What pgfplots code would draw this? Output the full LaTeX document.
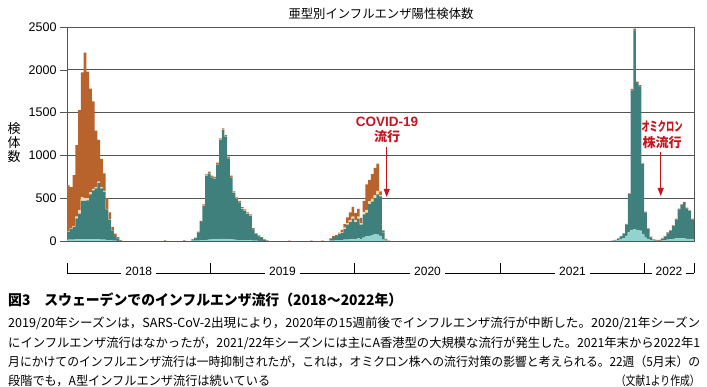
\documentclass[border=0pt]{standalone}
\usepackage{pgfplots}
\pgfplotsset{compat=1.18}
\usepackage{pgfplotstable}
\usepackage{graphicx}
\usepackage{fontspec}
\setmainfont{Liberation Sans}
\newfontfamily\jp{Noto Sans CJK JP}
\usetikzlibrary{arrows.meta}
\definecolor{cy}{HTML}{92D3CF}
\definecolor{tl}{HTML}{3F7F7C}
\definecolor{yl}{HTML}{F3D9A2}
\definecolor{orn}{HTML}{B7632B}
\definecolor{rd}{HTML}{C4161C}
\definecolor{gr}{HTML}{555555}
% week index (0 = 2018 week 1), light cyan, teal, pale yellow, orange
\pgfplotstableread{
x c t y o
0 15 95 5 535
1 15 125 5 485
2 15 150 10 595
3 20 245 20 835
4 20 300 40 1170
5 20 450 40 1460
6 20 450 30 1700
7 20 455 25 1480
8 20 525 25 1210
9 20 570 20 1020
10 20 595 15 660
11 20 660 15 485
12 15 600 10 335
13 15 560 10 205
14 10 360 5 125
15 10 240 5 80
16 5 115 0 45
17 5 55 0 25
18 0 30 0 15
19 0 5 0 5
35 0 0 0 8
42 0 0 0 6
45 3 15 0 5
46 4 30 0 5
47 5 94 0 10
48 8 211 0 15
49 10 398 5 15
50 12 747 5 15
51 15 775 5 15
52 20 723 5 15
53 20 708 5 15
54 20 875 5 15
55 25 1154 5 15
56 25 1271 5 15
57 25 1193 5 15
58 20 945 5 15
59 20 723 5 15
60 15 545 5 15
61 12 478 5 15
62 10 440 5 15
63 10 365 5 15
64 8 342 5 15
65 8 307 5 15
66 6 284 5 15
67 5 130 0 15
68 3 77 0 10
69 2 53 0 10
70 2 35 0 8
71 0 12 0 8
72 0 3 0 5
80 0 0 0 5
88 0 0 0 5
92 0 0 0 5
95 5 20 0 6
96 5 40 0 13
97 8 50 0 12
98 10 70 5 12
99 10 85 10 25
100 15 125 15 45
101 15 175 20 65
102 20 200 25 90
103 25 235 25 115
104 20 200 20 85
105 30 230 25 90
106 25 165 20 60
107 40 270 30 130
108 55 275 35 295
109 60 370 35 250
110 70 390 35 285
111 80 420 35 320
112 75 470 40 320
113 60 460 20 40
114 15 85 5 20
115 5 10 0 10
116 0 0 0 5
197 0 5 0 0
198 4 6 0 2
199 10 18 0 3
200 20 33 0 5
201 30 55 0 5
202 60 130 0 10
203 100 447 0 10
204 130 1631 0 15
205 140 2320 0 20
206 130 1716 0 15
207 120 1687 0 15
208 80 817 0 10
209 40 293 0 10
210 20 118 0 10
211 10 31 0 10
212 5 4 0 10
213 2 2 0 8
214 0 4 0 8
215 5 18 0 8
216 10 40 0 8
217 15 75 0 10
218 20 95 0 10
219 25 148 0 10
220 30 220 0 10
221 30 338 0 10
222 30 389 0 10
223 30 416 0 10
224 25 355 0 10
225 25 324 0 10
226 20 231 0 10
}\flu
\begin{document}
\begin{tikzpicture}
\useasboundingbox (0,0) rectangle (707pt,387pt);
\begin{axis}[
  at={(67pt,146pt)}, anchor=south west,
  scale only axis, width=627pt, height=214pt,
  xmin=-0.5, xmax=226.5, ymin=0, ymax=2500,
  ybar stacked, bar width=0.94,
  ytick={0,500,...,2500},
  xtick=\empty,
  minor xtick={-0.5,0.5,...,226.5},
  minor tick length=3pt, major tick length=7pt,
  tick align=outside, ytick pos=left, xtick pos=bottom,
  ymajorgrids, grid style={gr, line width=0.9pt},
  axis line style={gr, line width=0.9pt},
  every tick/.style={gr, line width=0.5pt},
  every minor tick/.style={gr, line width=0.45pt},
  yticklabel style={font=\fontsize{12.5}{12.5}\selectfont, black},
  /pgf/number format/assume math mode=true,
  /pgf/number format/set thousands separator={},
]
\addplot[fill=cy, draw=none] table[x=x, y=c] {\flu};
\addplot[fill=tl, draw=none] table[x=x, y=t] {\flu};
\addplot[fill=yl, draw=none] table[x=x, y=y] {\flu};
\addplot[fill=orn, draw=none] table[x=x, y=o] {\flu};
\end{axis}
% title and y label
\node at (381pt,373pt) {\resizebox{185pt}{\height}{\jp\fontsize{12.5}{13}\selectfont 亜型別インフルエンザ陽性検体数}};
\node[align=center, font=\jp\fontsize{13}{14}\selectfont] at (14pt,244pt) {検\\体\\数};
% annotations
\node[rd, font=\bfseries\fontsize{13.5}{14}\selectfont] at (387pt,265pt) {COVID-19};
\node[rd, font=\jp\bfseries\fontsize{13}{14}\selectfont] at (387pt,250pt) {流行};
\draw[rd, line width=0.9pt, -{Triangle[length=8pt,width=6pt]}] (386.7pt,240pt) -- (386.7pt,190pt);
\node[rd] at (662pt,260pt) {\resizebox{41pt}{\height}{\jp\bfseries\fontsize{13}{14}\selectfont オミクロン}};
\node[rd, font=\jp\bfseries\fontsize{13}{14}\selectfont] at (662pt,244pt) {株流行};
\draw[rd, line width=0.9pt, -{Triangle[length=8pt,width=6pt]}] (660.7pt,235pt) -- (660.7pt,191pt);
% year axis
\draw[line width=0.6pt] (67pt,114pt) -- (694pt,114pt);
\foreach \xx in {67,210.6,500.6,694} \draw[line width=0.6pt] (\xx pt,114pt) -- (\xx pt,124pt);
\foreach \xx in {354.3,644.3} \draw[line width=1.5pt] (\xx pt,114pt) -- (\xx pt,124pt);
\foreach \xx/\yy in {138.8/2018,282.5/2019,427.5/2020,572.5/2021,669/2022}
  \node[fill=white, inner xsep=4pt, inner ysep=1pt, font=\fontsize{12}{12}\selectfont] at (\xx pt,116pt) {\yy};
% caption and text
\node[anchor=west, inner sep=0pt] at (8pt,87pt) {\resizebox{394pt}{\height}{\jp\bfseries\fontsize{14.5}{15}\selectfont 図3　スウェーデンでのインフルエンザ流行（2018〜2022年）}};
\node[anchor=west, inner sep=0pt] at (8pt,64pt) {\resizebox{692pt}{\height}{\jp\fontsize{12.5}{13}\selectfont 2019/20年シーズンは，SARS-CoV-2出現により，2020年の15週前後でインフルエンザ流行が中断した。2020/21年シーズン}};
\node[anchor=west, inner sep=0pt] at (8pt,44pt) {\resizebox{692pt}{\height}{\jp\fontsize{12.5}{13}\selectfont にインフルエンザ流行はなかったが，2021/22年シーズンには主にA香港型の大規模な流行が発生した。2021年末から2022年1}};
\node[anchor=west, inner sep=0pt] at (8pt,25pt) {\resizebox{692pt}{\height}{\jp\fontsize{12.5}{13}\selectfont 月にかけてのインフルエンザ流行は一時抑制されたが，これは，オミクロン株への流行対策の影響と考えられる。22週（5月末）の}};
\node[anchor=west, inner sep=0pt] at (8pt,6.5pt) {\resizebox{262pt}{\height}{\jp\fontsize{12.5}{13}\selectfont 段階でも，A型インフルエンザ流行は続いている}};
\node[anchor=east, inner sep=0pt] at (700pt,6.5pt) {\resizebox{84pt}{\height}{\jp\fontsize{12.5}{13}\selectfont （文献1より作成）}};
\end{tikzpicture}
\end{document}
